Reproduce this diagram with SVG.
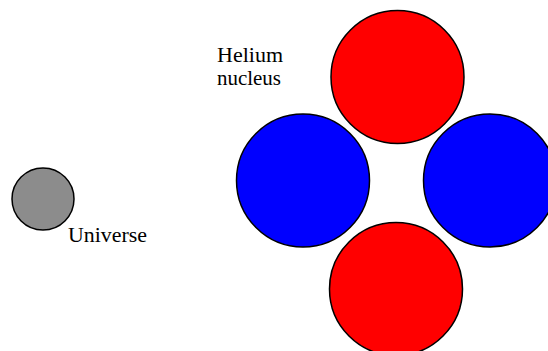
<svg xmlns="http://www.w3.org/2000/svg" width="548" height="351" viewBox="0 0 548 351">
<defs>
<pattern id="dots" width="2" height="2" patternUnits="userSpaceOnUse">
<rect width="2" height="2" fill="#c8c8c8"/>
<rect width="1" height="1" fill="#000"/>
<rect x="1" y="1" width="1" height="1" fill="#000"/>
</pattern>
</defs>
<style>
.p{fill:#ff0000;stroke:#000;stroke-width:1.5}
.n{fill:#0000ff;stroke:#000;stroke-width:1.5}
.u{fill:#8c8c8c;stroke:#000;stroke-width:1.5}
.t{font-family:"Liberation Serif",serif;font-size:21px;fill:#000}
</style>
<rect width="548" height="351" fill="#fff"/>
<g id="universe">
<circle class="u" cx="43" cy="199" r="31"/>
<text class="t" x="68" y="242" textLength="79" lengthAdjust="spacingAndGlyphs">Universe</text>
</g>
<g id="helium-label">
<text class="t" x="217" y="62" textLength="66" lengthAdjust="spacingAndGlyphs">Helium</text>
<text class="t" x="217" y="85" textLength="64" lengthAdjust="spacingAndGlyphs">nucleus</text>
</g>
<g id="proton-top"><circle class="p" cx="397.5" cy="77" r="66.5"/></g>
<g id="neutron-left"><circle class="n" cx="303" cy="180.5" r="66.5"/></g>
<g id="neutron-right"><circle class="n" cx="490" cy="180.5" r="66.5"/></g>
<g id="proton-bottom"><circle class="p" cx="396" cy="289" r="66.5"/></g>
<g id="connectors"></g>
</svg>
